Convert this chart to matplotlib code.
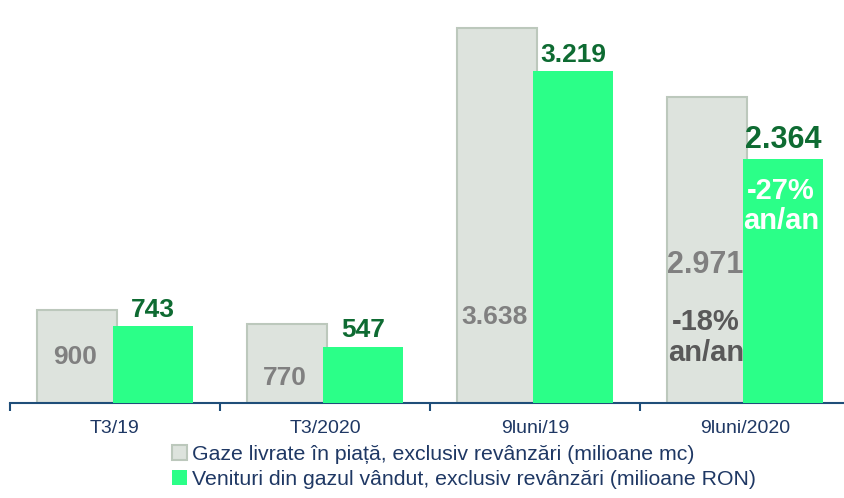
import numpy as np
import matplotlib.pyplot as plt

plt.rcParams['font.family'] = ['Liberation Sans', 'DejaVu Sans']

# data
categories = ['T3/19', 'T3/2020', '9luni/19', '9luni/2020']
gaze = [900, 770, 3638, 2971]
venituri = [743, 547, 3219, 2364]
gaze_txt = ['900', '770', '3.638', '2.971']
venit_txt = ['743', '547', '3.219', '2.364']
gaze_lbl_frac = [0.5, 0.31, 0.23, 0.45]  # where the grey label sits inside the bar
gaze_lbl_size = [19, 19, 19, 22]
venit_lbl_size = [19, 19, 19, 22]
legend_labels = ['Gaze livrate în piață, exclusiv revânzări (milioane mc)',
                 'Venituri din gazul vândut, exclusiv revânzări (milioane RON)']

grey_fill = '#DDE3DD'
grey_edge = '#BCC8BC'
green = '#2BFF88'
dark_green = '#0E6B32'
navy = '#1F3864'

fig = plt.figure(figsize=(8.45, 4.98), dpi=100)
ax = fig.add_axes([10/845, 95/498, 840/845, 403/498])

x = np.arange(len(categories))
w = 0.385
off = 0.181
ax.bar(x - off, gaze, w, color=grey_fill, edgecolor=grey_edge, linewidth=1.5, zorder=2,
       label=legend_labels[0])
ax.bar(x + off, venituri, w, color=green, edgecolor='none', zorder=3,
       label=legend_labels[1])

for i in range(len(x)):
    ax.text(x[i] - off - 0.01, gaze[i] * gaze_lbl_frac[i], gaze_txt[i], ha='center', va='center',
            fontsize=gaze_lbl_size[i], fontweight='bold', color='#808080', zorder=2.5)
    ax.annotate(venit_txt[i], (x[i] + off, venituri[i]), xytext=(0, 3),
                textcoords='offset points', ha='center', va='bottom',
                fontsize=venit_lbl_size[i], fontweight='bold', color=dark_green, zorder=4)

ax.text(2.814, 635, '-18%\nan/an', ha='center', va='center', fontsize=21,
        fontweight='bold', color='#595959', linespacing=1.15, zorder=4)
ax.text(3.171, 1911, '-27%\nan/an', ha='center', va='center', fontsize=21,
        fontweight='bold', color='white', linespacing=1.1, zorder=4)

ax.set_xlim(-0.5, 3.5)
ax.set_ylim(0, 3909)
ax.set_yticks([])
for s in ['top', 'right', 'left']:
    ax.spines[s].set_visible(False)
ax.spines['bottom'].set_color('#1F4E79')
ax.spines['bottom'].set_linewidth(1.5)
ax.set_xticks(x)
ax.set_xticklabels(categories, fontsize=14, color=navy)
ax.tick_params(axis='x', which='major', length=0, pad=12)
ax.set_xticks(np.arange(-0.5, 4, 1), minor=True)
ax.tick_params(axis='x', which='minor', length=6, width=1.5, color='#1F4E79', direction='out')

fig.legend(loc='upper left', bbox_to_anchor=(172/845, 1 - 445/498), frameon=False,
           fontsize=15.3, labelcolor=navy, handlelength=0.7, handleheight=0.7,
           handletextpad=0.25, borderpad=0, borderaxespad=0, labelspacing=0.28)

plt.savefig('out.png', dpi=100)
